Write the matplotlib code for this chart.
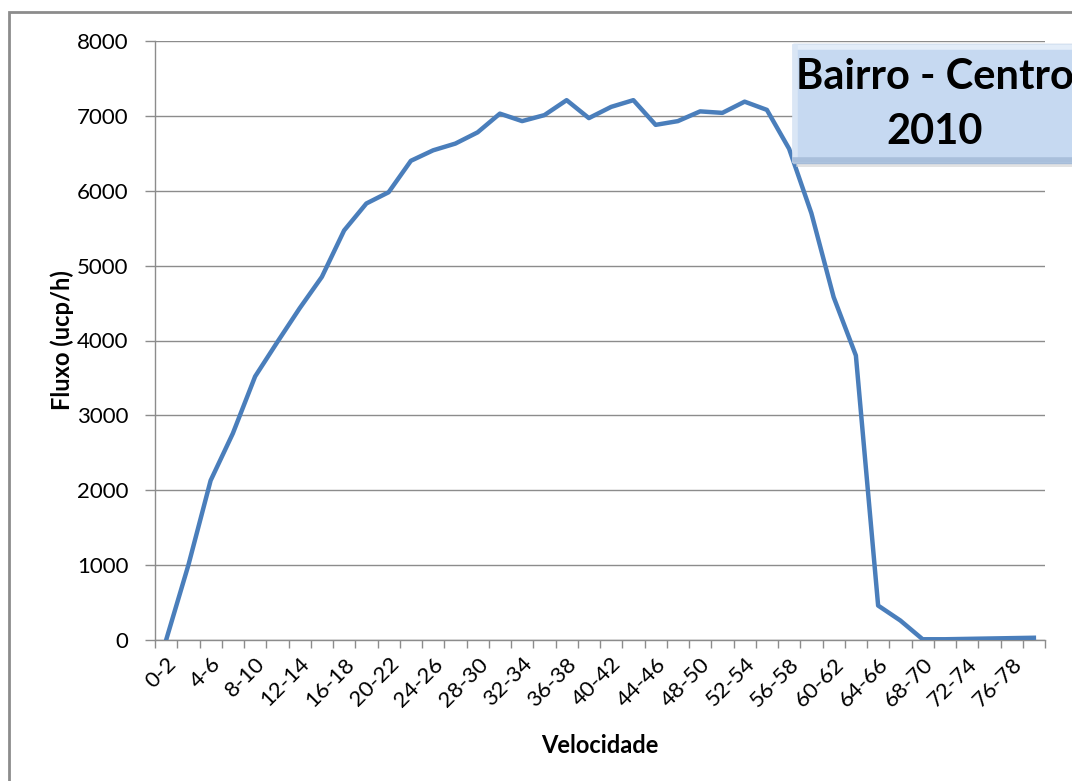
import matplotlib
matplotlib.use('Agg')
import matplotlib.pyplot as plt
from matplotlib.patches import Rectangle
from matplotlib.lines import Line2D

# === DATA ===
faixas = [f"{v}-{v + 2}" for v in range(0, 80, 2)]
fluxo = [0, 1000, 2130, 2760, 3520, 3980, 4430, 4850, 5470, 5830,
         5980, 6400, 6540, 6630, 6780, 7030, 6930, 7010, 7210, 6970,
         7120, 7210, 6880, 6930, 7060, 7040, 7190, 7080, 6560, 5700,
         4580, 3800, 460, 260, 10, 10, 15, 20, 25, 30]
y_ticks = [0, 1000, 2000, 3000, 4000, 5000, 6000, 7000, 8000]

plt.rcParams['font.family'] = ['Lato', 'DejaVu Sans']

fig = plt.figure(figsize=(10.72, 7.81), dpi=100)
ax = fig.add_axes([155 / 1072, 1 - 640 / 781, 890 / 1072, 599 / 781])

x = list(range(len(faixas)))
ax.plot(x, fluxo, color='#4A7EBB', linewidth=3.2, solid_joinstyle='round', zorder=3)

ax.set_xlim(-0.5, len(faixas) - 0.5)
ax.set_ylim(0, 8000)
ax.set_yticks(y_ticks)
ax.set_yticklabels([str(v) for v in y_ticks], fontsize=16)
ax.grid(axis='y', color='#8C8C8C', linewidth=1.0)
ax.set_axisbelow(True)

# category labels every other category, ticks on category boundaries
ax.set_xticks(x[::2])
ax.set_xticklabels(faixas[::2], rotation=45, ha='right', rotation_mode='anchor', fontsize=16)
ax.set_xticks([i - 0.5 for i in range(len(faixas) + 1)], minor=True)
ax.tick_params(axis='x', which='major', length=0, pad=10)
ax.tick_params(axis='x', which='minor', length=6, color='#8C8C8C', width=1)
ax.tick_params(axis='y', length=7, color='#8C8C8C', width=1, pad=12)

for side in ['top', 'right']:
    ax.spines[side].set_visible(False)
for side in ['left', 'bottom']:
    ax.spines[side].set_color('#8C8C8C')
    ax.spines[side].set_linewidth(1)

ax.set_xlabel('Velocidade', fontsize=17, fontweight='bold', labelpad=17)
ax.set_ylabel('Fluxo (ucp/h)', fontsize=17, fontweight='bold', labelpad=2)

# outer chart border
fig.patches.append(Rectangle((9 / 1072, -0.05), 1.2, 1 - 12 / 781 + 0.05, transform=fig.transFigure,
                             facecolor='none', edgecolor='#8C8C8C', linewidth=2))

# title box with bevel
bx0, by0, bw, bh = 793 / 1072, 1 - 163 / 781, 300 / 1072, 119 / 781
fig.patches.append(Rectangle((bx0 + 3 / 1072, by0 - 4 / 781), bw, bh, transform=fig.transFigure,
                             facecolor='#D0D0D0', edgecolor='none', alpha=0.6, zorder=5))
fig.patches.append(Rectangle((bx0, by0), bw, bh, transform=fig.transFigure,
                             facecolor='#C6D9F1', edgecolor='#A6BCD8', linewidth=1, zorder=6))
fig.lines.append(Line2D([bx0 + 2 / 1072, bx0 + bw], [by0 + bh - 3 / 781, by0 + bh - 3 / 781],
                        transform=fig.transFigure, color='#E3EDF9', linewidth=4, zorder=7))
fig.lines.append(Line2D([bx0 + 2 / 1072, bx0 + 2 / 1072], [by0 + 3 / 781, by0 + bh - 3 / 781],
                        transform=fig.transFigure, color='#DAE6F5', linewidth=4, zorder=7))
fig.lines.append(Line2D([bx0 + 2 / 1072, bx0 + bw], [by0 + 3 / 781, by0 + 3 / 781],
                        transform=fig.transFigure, color='#A9BFDB', linewidth=4, zorder=7))
fig.text(935 / 1072, 1 - 77 / 781, 'Bairro - Centro', fontsize=30, fontweight='bold',
         ha='center', va='center', color='black', zorder=8)
fig.text(935 / 1072, 1 - 132 / 781, '2010', fontsize=30, fontweight='bold',
         ha='center', va='center', color='black', zorder=8)

fig.savefig('out.png', dpi=100, facecolor='white')
